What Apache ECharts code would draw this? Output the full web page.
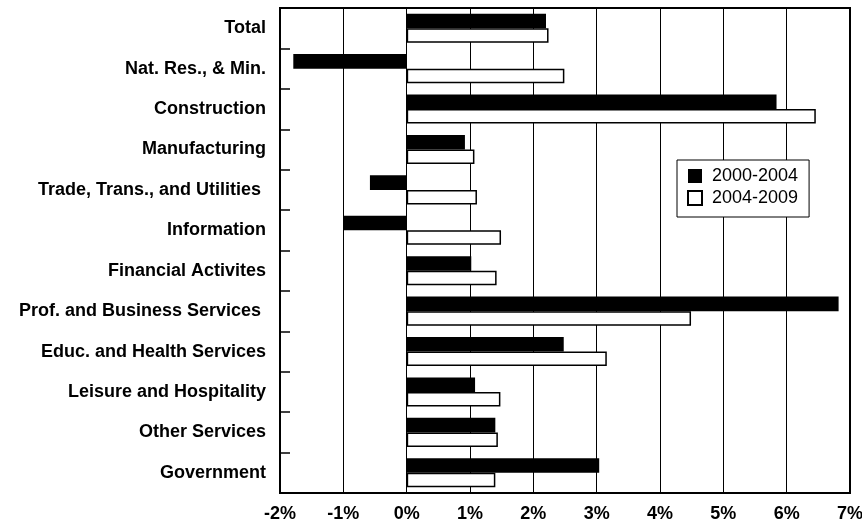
<!DOCTYPE html>
<html>
<head>
<meta charset="utf-8">
<script src="https://cdn.jsdelivr.net/npm/echarts@6/dist/echarts.min.js"></script>
<style>
html,body{margin:0;padding:0;background:#fff;}
#c{width:862px;height:523px;}
</style>
</head>
<body>
<div id="c"></div>
<script>
const categories = [
  "Total",
  "Nat. Res., & Min.",
  "Construction",
  "Manufacturing",
  "Trade, Trans., and Utilities ",
  "Information",
  "Financial Activites",
  "Prof. and Business Services ",
  "Educ. and Health Services",
  "Leisure and Hospitality",
  "Other Services",
  "Government"
];
const growth2000_2004 = [2.20, -1.79, 5.84, 0.92, -0.58, -1.00, 1.02, 6.82, 2.48, 1.08, 1.40, 3.04];
const growth2004_2009 = [2.24, 2.49, 6.46, 1.07, 1.11, 1.49, 1.42, 4.49, 3.16, 1.48, 1.44, 1.40];
const seriesNames = ["2000-2004", "2004-2009"];

const FONT = "'Liberation Sans', Arial, Helvetica, sans-serif";
const chart = echarts.init(document.getElementById('c'), null, {renderer: 'canvas'});
chart.setOption({
  animation: false,
  backgroundColor: '#fff',
  textStyle: {fontFamily: FONT},
  grid: {
    left: 280, top: 8, right: 12, bottom: 30,
    outerBoundsMode: 'none', containLabel: false,
    show: true, borderColor: '#000', borderWidth: 2, backgroundColor: 'transparent'
  },
  legend: {
    orient: 'vertical',
    left: 677, top: 160,
    itemWidth: 14, itemHeight: 14, itemGap: 4,
    padding: [7, 11, 10, 10],
    borderColor: '#000', borderWidth: 1,
    backgroundColor: '#fff',
    icon: 'rect',
    textStyle: {fontFamily: FONT, fontSize: 18, color: '#000', lineHeight: 18, padding: [0, 0, 0, 5]},
    data: seriesNames
  },
  xAxis: {
    type: 'value',
    min: -2, max: 7, interval: 1,
    axisLine: {show: true, onZero: false, lineStyle: {color: '#000', width: 2}},
    axisTick: {show: false},
    splitLine: {show: true, lineStyle: {color: '#000', width: 1}},
    axisLabel: {
      formatter: '{value}%', fontFamily: FONT, fontSize: 18, fontWeight: 'bold',
      color: '#000', margin: 12
    }
  },
  yAxis: {
    type: 'category',
    inverse: true,
    data: categories,
    axisLine: {show: true, onZero: false, lineStyle: {color: '#000', width: 2}},
    axisTick: {show: true, inside: true, length: 10, lineStyle: {color: '#000', width: 1.5}},
    splitLine: {show: false},
    axisLabel: {
      fontFamily: FONT, fontSize: 18, fontWeight: 'bold', color: '#000', margin: 14
    }
  },
  series: [
    {
      name: seriesNames[0], type: 'bar', data: growth2000_2004,
      barCategoryGap: '28%', barGap: '0%',
      itemStyle: {color: '#000', borderColor: '#000', borderWidth: 0}
    },
    {
      name: seriesNames[1], type: 'bar', data: growth2004_2009,
      barCategoryGap: '28%', barGap: '0%',
      itemStyle: {color: '#fff', borderColor: '#000', borderWidth: 1.5}
    }
  ]
});
</script>
</body>
</html>
